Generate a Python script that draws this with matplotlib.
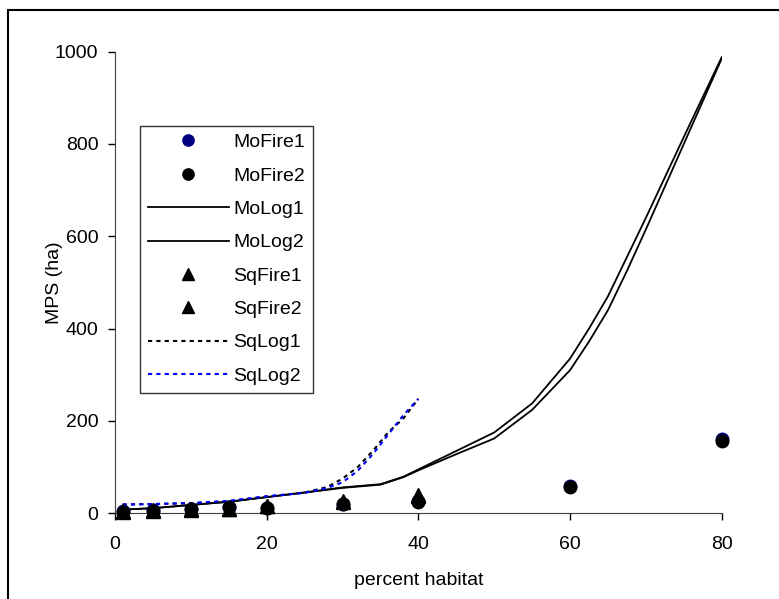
import matplotlib
matplotlib.use('Agg')
import matplotlib.pyplot as plt
from matplotlib.patches import Rectangle

plt.rcParams['font.family'] = ['Liberation Sans', 'DejaVu Sans']

# fire model points
fire_x = [1, 5, 10, 15, 20, 30, 40, 60, 80]
mofire1 = [4, 7, 10, 14, 12, 21, 27, 60, 160]
mofire2 = [3, 6, 9, 13, 11, 20, 25, 57, 157]

sq_x = [1, 5, 10, 15, 20, 30, 40]
sqfire1 = [4, 7, 9, 10, 16, 26, 40]
sqfire2 = [3, 6, 8, 9, 15, 25, 38]

# logistic fits
molog_x = [1, 5, 10, 15, 20, 25, 30, 35, 38, 40, 45, 50, 55, 60, 62.5, 65, 67.5, 70, 75, 80]
molog1 = [8, 11, 18, 25, 35, 45, 56, 63, 79, 95, 135, 175, 238, 335, 400, 470, 555, 640, 815, 988]
molog2 = [8, 11, 18, 25, 35, 45, 55, 62, 78, 93, 128, 162, 224, 310, 372, 440, 525, 615, 800, 985]

sqlog_x = [1, 5, 10, 15, 20, 25, 28, 30, 32, 34, 36, 38, 40]
sqlog1 = [19, 20, 22, 26, 36, 45, 57, 75, 100, 135, 175, 205, 248]
sqlog2 = [19, 20, 22, 27, 37, 44, 55, 67, 92, 128, 170, 212, 248]

fig = plt.figure(figsize=(7.79, 5.99), dpi=100)
ax = fig.add_axes([0.1476, 0.1431, 0.7789, 0.7708])

ax.plot(fire_x, mofire1, 'o', color='#000080', ms=9, clip_on=False, label='MoFire1', zorder=4)
ax.plot(fire_x, mofire2, 'o', color='black', ms=9, clip_on=False, label='MoFire2', zorder=4)
ax.plot(molog_x, molog1, '-', color='black', lw=1.3, label='MoLog1')
ax.plot(molog_x, molog2, '-', color='black', lw=1.3, label='MoLog2')
ax.plot(sq_x, sqfire1, '^', color='black', ms=10, clip_on=False, label='SqFire1', zorder=5)
ax.plot(sq_x, sqfire2, '^', color='black', ms=10, clip_on=False, label='SqFire2', zorder=5)
ax.plot(sqlog_x, sqlog1, color='black', lw=1.5, dashes=(2, 2), label='SqLog1')
ax.plot(sqlog_x, sqlog2, color='#0000ff', lw=1.5, dashes=(2, 2), label='SqLog2')

ax.set_xlim(0, 80)
ax.set_ylim(0, 1000)
ax.set_xticks([0, 20, 40, 60, 80])
ax.set_yticks([0, 200, 400, 600, 800, 1000])
ax.tick_params(direction='out', length=5, width=1, labelsize=14)
ax.tick_params(axis='x', pad=11)
ax.tick_params(axis='y', pad=7)
ax.spines['top'].set_visible(False)
ax.spines['right'].set_visible(False)
ax.spines['left'].set_color('#404040')
ax.spines['bottom'].set_color('#404040')
ax.set_xlabel('percent habitat', fontsize=14)
ax.set_ylabel('MPS (ha)', fontsize=14)
ax.xaxis.set_label_coords(0.5, -0.1445, transform=ax.transAxes)
ax.yaxis.set_label_coords(-0.099, 0.5, transform=ax.transAxes)
ax.xaxis.label.set_va('center')
ax.yaxis.label.set_va('center')

leg = ax.legend(loc='upper left', bbox_to_anchor=(0.041, 0.839), borderaxespad=0,
                fontsize=14, frameon=True, fancybox=False, edgecolor='black',
                handlelength=4.2, handletextpad=0.2, labelspacing=0.81,
                borderpad=0.4, markerscale=0.9)
leg.get_frame().set_linewidth(1.0)

fig.patches.append(Rectangle((7.5 / 779, -0.1), 1.2, (599 - 9.5) / 599 + 0.1,
                             transform=fig.transFigure, fill=False,
                             edgecolor='black', lw=1.5))

fig.savefig('out.png', dpi=100)
